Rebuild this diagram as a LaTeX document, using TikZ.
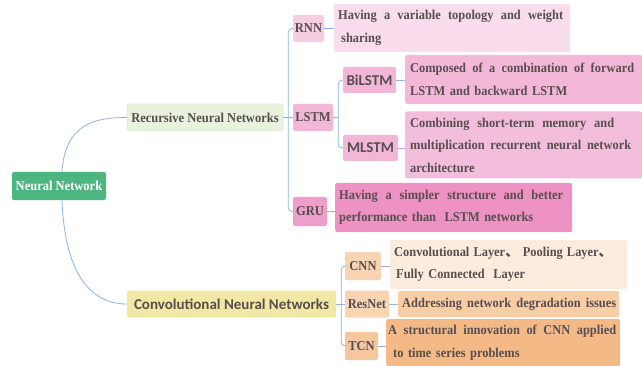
\documentclass[tikz,border=0pt]{standalone}
\usepackage{fontspec}
\setmainfont{Liberation Serif}[FakeStretch=0.92]
\newfontfamily\sansbf{Carlito}
\newfontfamily\cjk{Noto Sans CJK SC}
\usetikzlibrary{calc}
\newcommand{\jline}[2]{\leavevmode\hbox to #1{\spaceskip=0.25em plus 1fil\relax #2}}
\definecolor{txt}{RGB}{88,78,78}
\definecolor{linec}{RGB}{141,180,226}
\definecolor{nnc}{RGB}{76,181,128}
\definecolor{recc}{RGB}{232,242,220}
\definecolor{recb}{RGB}{214,230,196}
\definecolor{convc}{RGB}{242,232,166}
\definecolor{rnnc}{RGB}{246,206,226}
\definecolor{rnndc}{RGB}{249,221,236}
\definecolor{lstmc}{RGB}{242,182,214}
\definecolor{bidc}{RGB}{243,184,216}
\definecolor{mldc}{RGB}{243,190,219}
\definecolor{gruc}{RGB}{238,158,202}
\definecolor{grudc}{RGB}{238,145,195}
\definecolor{cnnc}{RGB}{249,212,178}
\definecolor{cnndc}{RGB}{252,236,222}
\definecolor{resdc}{RGB}{248,206,166}
\definecolor{tcnc}{RGB}{246,198,156}
\definecolor{tcndc}{RGB}{243,186,136}
\begin{document}
\begin{tikzpicture}[x=1pt,y=-1pt,
  lbl/.style={rounded corners=2pt, inner sep=0pt, text=txt, minimum height=27pt,
    font=\fontsize{13.6}{15}\selectfont\bfseries, align=center},
  sanslbl/.style={font=\sansbf\fontsize{15}{17}\selectfont\bfseries},
  desc/.style={rounded corners=2pt, inner xsep=4pt, inner ysep=0pt, anchor=west, text=txt,
    font=\fontsize{13.5}{22.5}\selectfont\bfseries, align=left},
  conn/.style={draw=linec, line width=0.8pt},
  trunk/.style={conn, rounded corners=4pt}]
\path[use as bounding box, fill=white] (0,0) rectangle (642,366);

% main nodes
\node[lbl, fill=nnc, text=white, minimum width=94pt, minimum height=28pt] (nn) at (59,186) {Neural Network};
\node[lbl, fill=recc, draw=recb, line width=0.5pt, minimum width=156pt] (rec) at (205,117.5) {Recursive Neural Networks};
\node[lbl, sanslbl, fill=convc, minimum width=209pt] (conv) at (231.5,304) {Convolutional Neural Networks};

% recursive children
\node[lbl, fill=rnnc, minimum width=31pt] (rnn) at (308.5,28.5) {RNN};
\node[lbl, fill=lstmc, minimum width=40pt] (lstm) at (313,117.5) {LSTM};
\node[lbl, sanslbl, fill=lstmc, minimum width=53pt, minimum height=26pt] (bilstm) at (369.5,80) {BiLSTM};
\node[lbl, sanslbl, fill=lstmc, minimum width=55pt, minimum height=26pt] (mlstm) at (370.5,148) {MLSTM};
\node[lbl, fill=gruc, minimum width=34pt, minimum height=29pt] (gru) at (310,211.5) {GRU};

% conv children
\node[lbl, fill=cnnc, minimum width=36pt, minimum height=28pt] (cnn) at (363,266) {CNN};
\node[lbl, fill=cnnc, minimum width=44pt] (resnet) at (367,304) {ResNet};
\node[lbl, fill=tcnc, minimum width=33pt, minimum height=28pt] (tcn) at (361.5,346) {TCN};

% descriptions
\node[desc, fill=rnndc, minimum width=236pt, minimum height=48pt, text width=228pt] (rnnd) at (334,28)
  {\jline{225pt}{Having a variable topology and weight}\\\hspace*{3pt}sharing};
\node[desc, fill=bidc, inner xsep=5pt, minimum width=237pt, minimum height=49pt, text width=227pt] (bid) at (405,79.5)
  {\jline{224pt}{Composed of a combination of forward}\\LSTM and backward LSTM};
\node[desc, fill=mldc, inner xsep=5pt, minimum width=237pt, minimum height=67pt, text width=227pt] (mld) at (405,145)
  {\jline{204pt}{Combining short-term memory and}\\\jline{221pt}{multiplication recurrent neural network}\\architecture};
\node[desc, fill=grudc, minimum width=237pt, minimum height=49pt, text width=229pt] (grud) at (335,207.5)
  {\jline{224pt}{Having a simpler structure and better}\\performance than\hspace{4pt} LSTM networks};
\node[desc, fill=cnndc, minimum width=237pt, minimum height=49pt, text width=229pt] (cnnd) at (390,264.5)
  {\jline{218pt}{Convolutional Layer{\cjk 、} Pooling Layer{\cjk 、}}\\\hspace*{2pt}Fully Connected\hspace{4pt} Layer};
\node[desc, fill=resdc, minimum width=221pt, minimum height=26pt, text width=213pt] (resd) at (398,304)
  {\jline{214pt}{Addressing network degradation issues}};
\node[desc, fill=tcndc, inner xsep=2pt, minimum width=234pt, minimum height=47pt, text width=230pt] (tcnd) at (386,342.5)
  {\jline{228pt}{A structural innovation of CNN applied}\\\hspace*{5pt}to time series problems};

% curves from root
\draw[conn] ([xshift=3pt]nn.north) .. controls +(3,-48) and +(-32,0) .. (rec.west);
\draw[conn] ([xshift=3pt]nn.south) .. controls +(3,80) and +(-32,0) .. (conv.west);

% recursive trunk
\draw[conn] (rec.east) -- (lstm.west);
\coordinate (j1) at ($(rec.east)+(5,0)$);
\draw[trunk] (j1) |- (rnn.west);
\draw[trunk] (j1) |- (gru.west);

% lstm trunk
\draw[conn] (lstm.east) -- ++(5,0) coordinate (j2);
\draw[trunk] (j2) |- (bilstm.west);
\draw[trunk] (j2) |- (mlstm.west);

% conv trunk
\draw[conn] (conv.east) -- (resnet.west);
\coordinate (j3) at ($(conv.east)+(5,0)$);
\draw[trunk] (j3) |- (cnn.west);
\draw[trunk] (j3) |- (tcn.west);

% leaf to description
\draw[conn] (rnn.east) -- (rnn.east -| rnnd.west);
\draw[conn] (bilstm.east) -- (bilstm.east -| bid.west);
\draw[conn] (mlstm.east) -- (mlstm.east -| mld.west);
\draw[conn] (gru.east) -- (gru.east -| grud.west);
\draw[conn] (cnn.east) -- (cnn.east -| cnnd.west);
\draw[conn] (resnet.east) -- (resnet.east -| resd.west);
\draw[conn] (tcn.east) -- (tcn.east -| tcnd.west);
\end{tikzpicture}
\end{document}
